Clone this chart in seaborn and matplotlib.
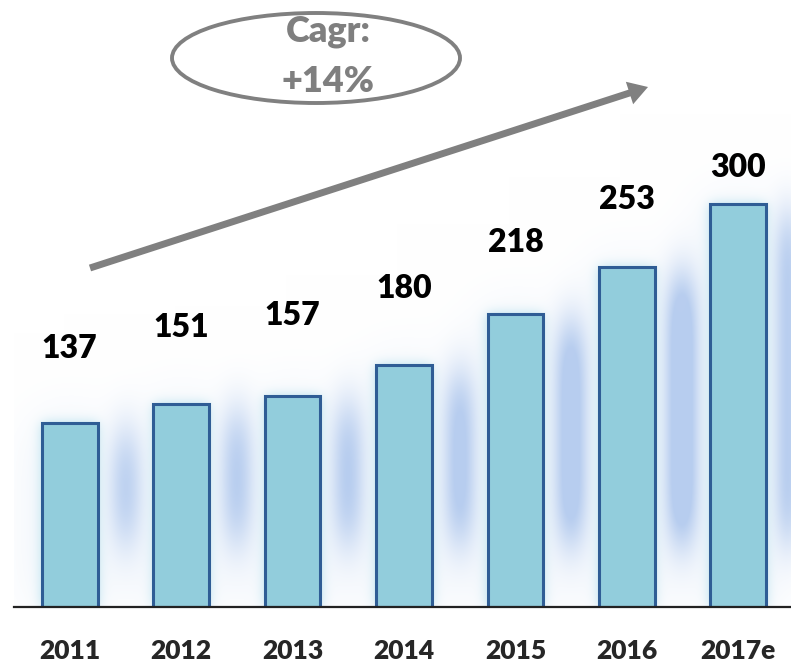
import numpy as np
import pandas as pd
import matplotlib
matplotlib.use('Agg')
import matplotlib.pyplot as plt
from matplotlib.patches import Ellipse
import seaborn as sns

years = ['2011', '2012', '2013', '2014', '2015', '2016', '2017e']
values = [137, 151, 157, 180, 218, 253, 300]
cagr_text = ['Cagr:', '+14%']

# label offsets above bar tops (pixels), as in the original slide
label_pad = [75, 77, 81, 77, 72, 68, 37]

bar_color = '#92CDDC'
edge_color = '#2F5D95'
gray = '#7F7F7F'

sns.set_style('white')
plt.rcParams['font.family'] = ['Lato', 'DejaVu Sans']

W, H = 791, 666
fig = plt.figure(figsize=(W / 100, H / 100), dpi=100)
ymax = 452
ax = fig.add_axes([14 / W, 59 / H, 780 / W, 607 / H])

# soft glow behind the bars, built from blurred masks of the bars
n = len(years)
nx, ny = 780, 607
xs = np.linspace(-0.5, n - 0.5, nx)
ys = np.linspace(0, ymax, ny)
X, Y = np.meshgrid(xs, ys)
bar_mask = np.zeros_like(X)
gap_mask = np.zeros_like(X)
for i, v in enumerate(values):
    bar_mask[(np.abs(X - i) <= 0.25) & (Y <= v)] = 1.0
    low = min(v, values[i + 1]) if i + 1 < n else v
    sel = (np.abs(X - (i + 0.5)) <= 0.1) & (Y >= 50) & (Y <= low - 10)
    gap_mask[sel] = (low / max(values)) ** 0.7


def blur(a, sx, sy):
    out = a
    for axis, s in ((1, sx), (0, sy)):
        k = np.arange(-3 * s, 3 * s + 1)
        g = np.exp(-k ** 2 / (2 * s ** 2))
        g /= g.sum()
        p = len(k) // 2
        padw = [(0, 0), (0, 0)]
        padw[axis] = (p, p)
        b = np.pad(out, padw, mode='constant')
        b = np.apply_along_axis(lambda r: np.convolve(r, g, mode='valid'), axis, b)
        out = b
    return out


def over(rgb, color, alpha):
    a = alpha[..., None]
    return np.array(color) * a + rgb * (1 - a)


glow = np.ones((ny, nx, 3))
glow = over(glow, (0.82, 0.88, 0.96), np.clip(blur(bar_mask, 30, 30) * 1.6, 0, 1) * 0.35)
glow = over(glow, (0.64, 0.75, 0.92), np.clip(blur(gap_mask, 10, 26) * 2.2, 0, 1) * 0.75)
glow = over(glow, (0.84, 0.93, 0.96), np.clip(blur(bar_mask, 6, 6) * 2.5, 0, 1) * 0.85)
ax.imshow(np.clip(glow, 0, 1), extent=(0, 1, 0, 1), transform=ax.transAxes,
          origin='lower', aspect='auto', zorder=1, interpolation='bilinear')

df = pd.DataFrame({'year': years, 'value': values})
sns.barplot(data=df, x='year', y='value', color=bar_color, width=0.5,
            edgecolor=edge_color, linewidth=2.2, saturation=1, ax=ax, zorder=3)

ax.set_xlim(-0.5, n - 0.5)
ax.set_ylim(0, ymax)

for i, v in enumerate(values):
    ax.annotate(str(v), (i, v), xytext=(0, label_pad[i] * 72 / 100),
                textcoords='offset points', ha='center', va='center',
                fontsize=23, fontweight='heavy', color='black', zorder=4)

for s in ['left', 'right', 'top']:
    ax.spines[s].set_visible(False)
ax.spines['bottom'].set_color('#222222')
ax.spines['bottom'].set_linewidth(1.6)
ax.spines['bottom'].set_zorder(5)
ax.set_yticks([])
ax.set_xlabel('')
ax.set_ylabel('')
ax.set_xticks(np.arange(-0.5, n, 1.0), minor=True)
ax.tick_params(axis='x', which='minor', length=7, width=1.5, color='#222222', direction='out')
ax.tick_params(axis='x', which='major', length=0, pad=23)
for t in ax.get_xticklabels():
    t.set_fontsize(19)
    t.set_fontweight('heavy')

# CAGR bubble and growth arrow
fig.patches.append(Ellipse((316 / W, 1 - 58 / H), 288 / W, 90 / H,
                           transform=fig.transFigure, facecolor='none',
                           edgecolor='#808080', linewidth=2.8))
fig.text(328 / W, 1 - 32 / H, cagr_text[0], ha='center', va='center',
         fontsize=26, fontweight='heavy', color=gray)
fig.text(328 / W, 1 - 82 / H, cagr_text[1], ha='center', va='center',
         fontsize=26, fontweight='heavy', color=gray)
ax.annotate('', xy=(648 / W, 1 - 87 / H), xytext=(90 / W, 1 - 268 / H),
            xycoords='figure fraction', textcoords='figure fraction',
            arrowprops=dict(width=5, headwidth=17, headlength=14, shrink=0,
                            facecolor='#808080', edgecolor='none'))

fig.savefig('out.png', dpi=100)
